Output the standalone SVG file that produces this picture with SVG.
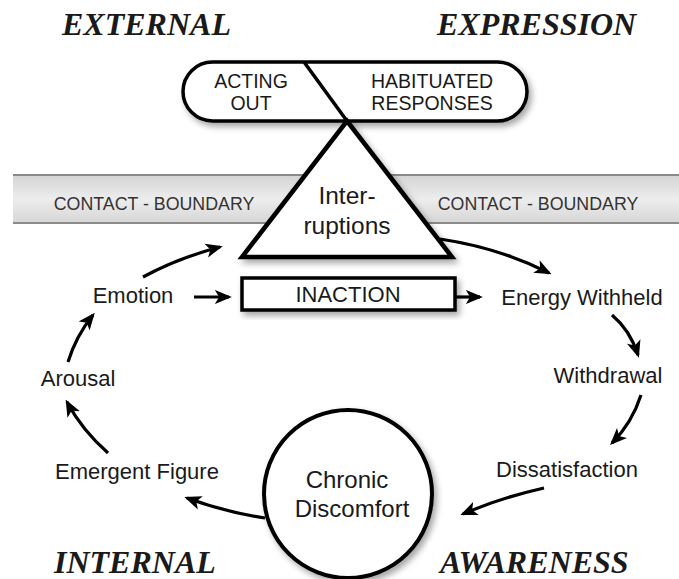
<svg xmlns="http://www.w3.org/2000/svg" width="679" height="579" viewBox="0 0 679 579">
<defs>
<style>
.title{font-family:"Liberation Serif","Times New Roman",serif;font-weight:bold;font-style:italic;font-size:32px;fill:#1a1a1a}
.lbl{font-family:"Liberation Sans",Arial,sans-serif;font-size:22px;fill:#1a1a1a;text-anchor:middle}
.cap{font-family:"Liberation Sans",Arial,sans-serif;font-size:19.5px;fill:#1a1a1a;text-anchor:middle}
.band{font-family:"Liberation Sans",Arial,sans-serif;font-size:17.8px;fill:#333;text-anchor:middle}
.shape{fill:#fff;stroke:#000;stroke-width:3.5;filter:url(#sh)}
.conn{fill:none;stroke:#000;stroke-width:3.2;marker-end:url(#ah)}
</style>
<filter id="sh" x="-20%" y="-20%" width="150%" height="150%">
<feDropShadow dx="3" dy="4" stdDeviation="3" flood-color="#000" flood-opacity="0.35"/>
</filter>
<linearGradient id="bandg" x1="0" y1="0" x2="0" y2="1">
<stop offset="0" stop-color="#d4d4d4"/>
<stop offset="0.5" stop-color="#ededed"/>
<stop offset="1" stop-color="#d6d6d6"/>
</linearGradient>
<marker id="ah" viewBox="0 0 12 10" refX="10" refY="5" markerWidth="17" markerHeight="15" markerUnits="userSpaceOnUse" orient="auto">
<path d="M0,0 L12,5 L0,10 L3,5 z" fill="#000"/>
</marker>
</defs>
<rect width="679" height="579" fill="#fff"/>

<g id="titles">
<text class="title" x="62" y="35">EXTERNAL</text>
<text class="title" x="437" y="35">EXPRESSION</text>
<text class="title" x="54" y="573">INTERNAL</text>
</g>

<g id="contact-boundary">
<rect x="13" y="175" width="666" height="48" fill="url(#bandg)"/>
<line x1="13" y1="175" x2="679" y2="175" stroke="#8a8a8a" stroke-width="2"/>
<line x1="13" y1="223" x2="679" y2="223" stroke="#8a8a8a" stroke-width="2"/>
<text class="band" x="154" y="210">CONTACT - BOUNDARY</text>
<text class="band" x="538" y="210">CONTACT - BOUNDARY</text>
</g>

<g id="expression-pill">
<rect class="shape" x="183" y="62" width="344" height="59" rx="29.5"/>
<line x1="304" y1="62" x2="347" y2="121" stroke="#000" stroke-width="3.5"/>
<text class="cap" x="251" y="88">ACTING</text>
<text class="cap" x="251" y="110">OUT</text>
<text class="cap" x="432" y="88">HABITUATED</text>
<text class="cap" x="432" y="110">RESPONSES</text>
</g>

<g id="interruptions">
<path class="shape" d="M347,121 L452,257 L242,257 Z" style="stroke-width:4.5"/>
<text class="lbl" x="347" y="204" style="font-size:24.5px">Inter-</text>
<text class="lbl" x="347" y="234" style="font-size:24.5px">ruptions</text>
</g>

<g id="inaction">
<rect class="shape" x="242" y="278" width="213" height="32"/>
<text class="lbl" x="348" y="302" style="font-size:22px">INACTION</text>
</g>

<g id="chronic-discomfort">
<circle class="shape" cx="348" cy="494" r="84" style="stroke-width:4"/>
<text class="lbl" x="347" y="488" style="font-size:24px">Chronic</text>
<text class="lbl" x="352" y="517" style="font-size:24px">Discomfort</text>
</g>

<g id="awareness">
<rect x="428" y="542" width="251" height="37" fill="#fff"/>
<text class="title" x="440" y="573">AWARENESS</text>
</g>

<g id="emotion"><text class="lbl" x="133" y="303">Emotion</text></g>
<g id="energy-withheld"><text class="lbl" x="582" y="305">Energy Withheld</text></g>
<g id="withdrawal"><text class="lbl" x="608" y="383">Withdrawal</text></g>
<g id="dissatisfaction"><text class="lbl" x="567" y="477">Dissatisfaction</text></g>
<g id="arousal"><text class="lbl" x="78" y="386">Arousal</text></g>
<g id="emergent-figure"><text class="lbl" x="137" y="479">Emergent Figure</text></g>

<g id="connectors">
<path class="conn" d="M143,277 Q178,258 220,247"/>
<path class="conn" d="M440,239 Q500,248 549,273"/>
<path class="conn" d="M612,315 Q630,330 638,355"/>
<path class="conn" d="M641,395 Q632,423 612,443"/>
<path class="conn" d="M544,488 Q500,498 463,514"/>
<path class="conn" d="M265,518 Q225,512 187,498"/>
<path class="conn" d="M108,453 Q82,430 67,402"/>
<path class="conn" d="M68,362 Q76,336 93,315"/>
<path class="conn" d="M194,297 L229,297"/>
<path class="conn" d="M456,297 L480,297"/>
</g>
</svg>
